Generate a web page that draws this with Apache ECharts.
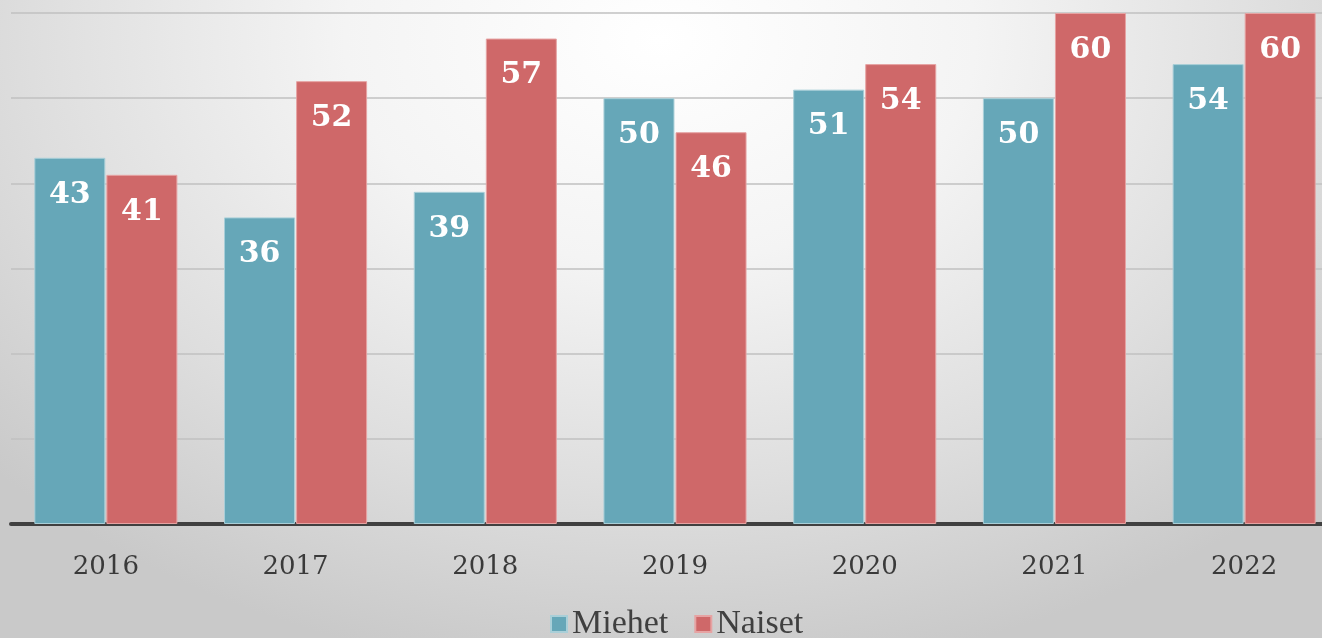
<!DOCTYPE html>
<html>
<head>
<meta charset="utf-8">
<script src="https://cdn.jsdelivr.net/npm/echarts@6/dist/echarts.min.js"></script>
<style>
	html, body { margin: 0; padding: 0; }
	body {
		width: 1322px; height: 638px; overflow: hidden;
		background: radial-gradient(ellipse 900px 640px at 660px 40px, #ffffff 0%, #f4f4f4 35%, #dedede 70%, #c9c9c9 100%);
	}
	#chart { width: 1340px; height: 638px; }
</style>
</head>
<body>
<div id="chart"></div>
<script type="text/javascript">
    // vuodet ja arvot
    var years = ['2016', '2017', '2018', '2019', '2020', '2021', '2022'];
    var miehet = [43, 36, 39, 50, 51, 50, 54];
    var naiset = [41, 52, 57, 46, 54, 60, 60];

    var serif = '"Liberation Serif", "DejaVu Serif", serif';
    var labelStyle = {
        show: true,
        position: 'insideTop',
        distance: 22,
        color: '#ffffff',
        fontFamily: '"DejaVu Serif", serif',
        fontWeight: 'bold',
        fontSize: 30
    };

    var myChart = echarts.init(document.getElementById('chart'));
    var option = {
        backgroundColor: 'transparent',
        animation: false,
        grid: { left: 11, top: 13, right: 1, bottom: 114 },
        legend: {
            bottom: -8,
            left: 545,
            itemWidth: 16,
            itemHeight: 16,
            itemGap: 26,
            icon: 'rect',
            textStyle: { fontFamily: serif, fontSize: 34, color: '#404040' },
            data: ['Miehet', 'Naiset']
        },
        xAxis: {
            type: 'category',
            data: years,
            axisTick: { show: false },
            axisLine: { lineStyle: { color: '#404040', width: 4 } },
            axisLabel: { fontFamily: '"DejaVu Serif", serif', fontSize: 26, color: '#3a3a3a', margin: 30 }
        },
        yAxis: {
            type: 'value',
            min: 0,
            max: 60,
            interval: 10,
            axisLabel: { show: false },
            axisLine: { show: false },
            axisTick: { show: false },
            splitLine: { lineStyle: { color: '#c0c0c0', width: 1.5 } }
        },
        series: [
            {
                name: 'Miehet',
                type: 'bar',
                data: miehet,
                barWidth: 71,
                barGap: '1.5%',
                itemStyle: { color: '#66a7b8', borderColor: '#a9cfd8', borderWidth: 1 },
                label: labelStyle
            },
            {
                name: 'Naiset',
                type: 'bar',
                data: naiset,
                barWidth: 71,
                itemStyle: { color: '#cf6869', borderColor: '#e6a3a3', borderWidth: 1 },
                label: labelStyle
            }
        ]
    };
    myChart.setOption(option);
</script>
</body>
</html>
